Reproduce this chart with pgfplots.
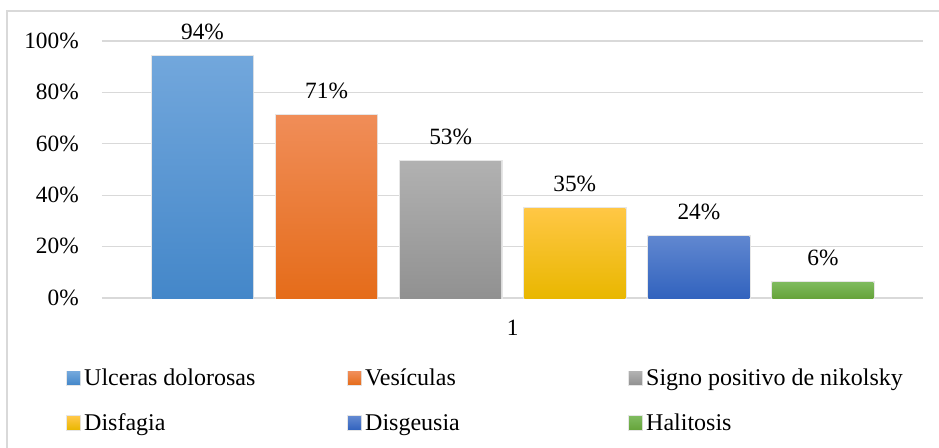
\documentclass[border=0pt]{standalone}
\usepackage{fontspec}
\setmainfont{Liberation Serif}
\usepackage{pgfplots}
\pgfplotsset{compat=1.18}
\definecolor{gridc}{HTML}{D9D9D9}
\definecolor{shc}{HTML}{E6E6E6}
\definecolor{b1t}{HTML}{72A7DC}\definecolor{b1b}{HTML}{4487C9}
\definecolor{o1t}{HTML}{F08D58}\definecolor{o1b}{HTML}{E56C1A}
\definecolor{g1t}{HTML}{B1B1B1}\definecolor{g1b}{HTML}{919191}
\definecolor{y1t}{HTML}{FFC745}\definecolor{y1b}{HTML}{E9B700}
\definecolor{d1t}{HTML}{6087D0}\definecolor{d1b}{HTML}{3263BE}
\definecolor{h1t}{HTML}{7EBA5D}\definecolor{h1b}{HTML}{66A43B}
\pgfplotsset{mylegend/.style 2 args={legend image code/.code={%
  \path[top color=#1, bottom color=#2] (0pt,-6pt) rectangle (9.75pt,3.75pt);
  \path (11.9pt,0pt);}},
  mybar/.style 2 args={draw=none, top color=#1, bottom color=#2,
  preaction={draw=shc, line width=2pt}, mylegend={#1}{#2}}}
\newcommand{\legtext}[1]{\makebox[196.85pt][l]{\strut #1}}
\begin{document}
\begin{tikzpicture}[x=0.75pt,y=0.75pt]
\begin{axis}[
  name=ax,
  scale only axis, width=615.75pt, height=192.75pt,
  xmin=0.19, xmax=6.806, ymin=0, ymax=100,
  axis line style={draw=none},
  tick style={draw=none},
  major tick length=0pt,
  ymajorgrids, grid style={gridc, line width=1pt},
  ytick={0,20,...,100},
  yticklabel={\pgfmathprintnumber{\tick}\%},
  yticklabel style={anchor=base east, inner sep=0pt, xshift=-17.25pt, yshift=-5.5pt},
  xtick={3.5}, xticklabels={1},
  xticklabel style={anchor=base, inner sep=0pt, yshift=-27.75pt},
  ticklabel style={font=\fontsize{17.5}{21}\selectfont},
  /pgf/number format/assume math mode=true,
  ybar, bar width=0.814, bar shift=0pt,
  nodes near coords={\pgfmathprintnumber{\pgfplotspointmeta}\%},
  nodes near coords style={font=\fontsize{17.5}{21}\selectfont, anchor=base, inner sep=0pt, yshift=12.75pt, text=black},
  legend columns=3,
  legend style={draw=none, fill=none, inner sep=0pt, outer sep=0pt,
    nodes={inner sep=0pt, outer sep=0pt},
    font=\fontsize{18}{21.6}\selectfont,
    row sep=17pt, column sep=0pt,
    at={(-0.04425,-0.2638)}, anchor=north west},
]
\addplot[mybar={b1t}{b1b}] coordinates {(1,94)};
\addlegendentry{\legtext{Ulceras dolorosas}}
\addplot[mybar={o1t}{o1b}] coordinates {(2,71)};
\addlegendentry{\legtext{Vesículas}}
\addplot[mybar={g1t}{g1b}] coordinates {(3,53)};
\addlegendentry{\legtext{Signo positivo de nikolsky}}
\addplot[mybar={y1t}{y1b}] coordinates {(4,35)};
\addlegendentry{\legtext{Disfagia}}
\addplot[mybar={d1t}{d1b}] coordinates {(5,24)};
\addlegendentry{\legtext{Disgeusia}}
\addplot[mybar={h1t}{h1b}] coordinates {(6,6)};
\addlegendentry{\legtext{Halitosis}}
\end{axis}
\draw[color=gridc, line width=1pt] (ax.south west) ++(-95,-170) rectangle ++(955,457);
\pgfresetboundingbox
\path[use as bounding box] (ax.south west) ++(-102,-149) rectangle ++(939,447);
\end{tikzpicture}
\end{document}
